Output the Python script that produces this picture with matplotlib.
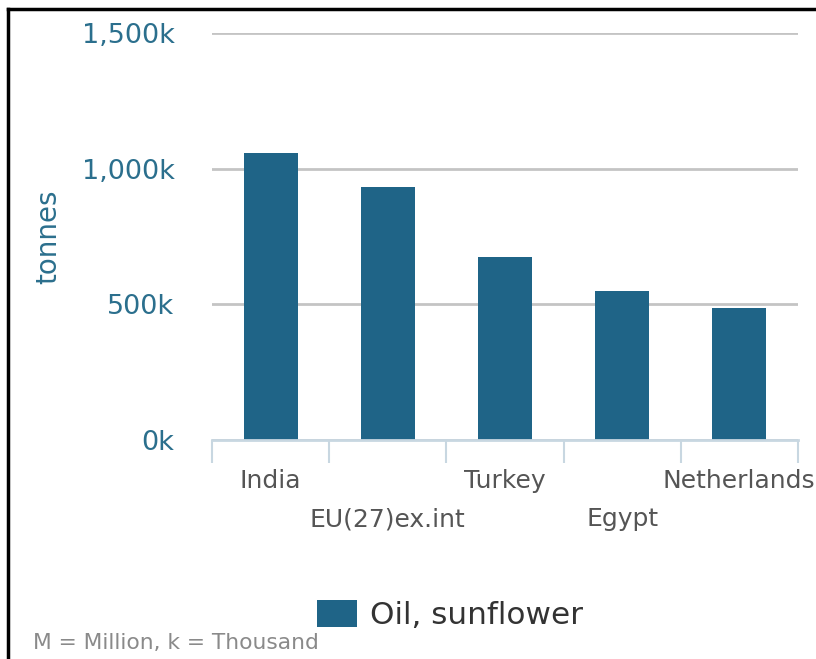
import matplotlib
matplotlib.use('Agg')
import matplotlib.pyplot as plt
import matplotlib.transforms as mtransforms
from matplotlib.lines import Line2D
from matplotlib.patches import Patch

# 数据
countries = ['India', 'EU(27)ex.int', 'Turkey', 'Egypt', 'Netherlands']
tonnes = [1057000, 932000, 674000, 549000, 486000]
y_ticks = [0, 500000, 1000000, 1500000]
y_tick_labels = ['0k', '500k', '1,000k', '1,500k']
series_name = 'Oil, sunflower'

bar_color = '#1f6487'
teal = '#2b6f8d'

fig = plt.figure(figsize=(8.16, 6.59), dpi=100)
ax = fig.add_axes([0.2598, 0.3323, 0.718, 0.6176])

x = list(range(len(countries)))
ax.bar(x, tonnes, width=0.46, color=bar_color, zorder=3)

ax.set_xlim(-0.5, len(countries) - 0.5)
ax.set_ylim(0, 1500000)

# 网格线
ax.set_yticks(y_ticks)
ax.set_yticklabels(y_tick_labels)
ax.yaxis.grid(True, color='#c4c4c4', linewidth=2, zorder=0)
ax.tick_params(axis='y', length=0, pad=27, labelsize=19.5, labelcolor=teal)

# x轴：分类边界刻度 + 交错标签
ax.set_xticks(x)
ax.set_xticklabels(countries)
ax.set_xticks([i - 0.5 for i in range(len(countries) + 1)], minor=True)
ax.tick_params(axis='x', which='major', length=0, pad=21, labelsize=18, labelcolor='#555555')
ax.tick_params(axis='x', which='minor', length=16.5, width=1.5, color='#c8d7e1')
offset = mtransforms.ScaledTranslation(0, -38 / 100, fig.dpi_scale_trans)
for i, lab in enumerate(ax.get_xticklabels()):
    if i % 2 == 1:
        lab.set_transform(lab.get_transform() + offset)

for s in ['top', 'right', 'left']:
    ax.spines[s].set_visible(False)
ax.spines['bottom'].set_color('#c8d7e1')
ax.spines['bottom'].set_linewidth(2)
ax.spines['bottom'].set_zorder(4)

ax.set_ylabel('tonnes', fontsize=20, color=teal)
ax.yaxis.set_label_coords(-0.256, 0.5)

# 图例
handle = Patch(facecolor=bar_color, edgecolor='none')
fig.legend([handle], [series_name], loc='center', bbox_to_anchor=(0.551, 0.067),
           frameon=False, fontsize=22.4, handlelength=1.3, handleheight=0.97,
           handletextpad=0.4, labelcolor='#333333')

fig.text(33 / 816, 1 - 643 / 659, 'M = Million, k = Thousand', fontsize=15.7,
         color='#8a8a8a', ha='left', va='center')

# 边框（上、左）
fig.add_artist(Line2D([8 / 816, 1], [1 - 9 / 659, 1 - 9 / 659], color='black', linewidth=2.5,
                      transform=fig.transFigure))
fig.add_artist(Line2D([8 / 816, 8 / 816], [0, 1 - 9 / 659], color='black', linewidth=2.5,
                      transform=fig.transFigure))

fig.savefig('out.png', dpi=100)
